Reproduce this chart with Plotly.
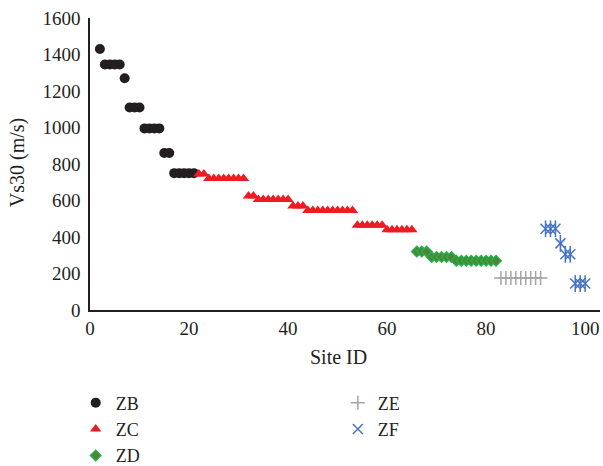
import plotly.graph_objects as go

# ---- data ----
x_zb = [2, 3, 4, 5, 6, 7, 8, 9, 10, 11, 12, 13, 14, 15, 16, 17, 18, 19, 20, 21]
y_zb = [1430, 1345, 1345, 1345, 1345, 1270, 1110, 1110, 1110, 995, 995, 995, 995,
        860, 860, 750, 750, 750, 750, 750]

x_zc = list(range(22, 66))
y_zc = ([745, 745] + [720] * 8 + [625, 625] + [605] * 7 + [570] * 3 +
        [545] * 10 + [465] * 6 + [440] * 6)

x_zd = list(range(66, 83))
y_zd = [320, 320, 320] + [290] * 5 + [270] * 9

x_ze = list(range(83, 92))
y_ze = [175] * 9

x_zf = [92, 93, 94, 95, 96, 97, 98, 99, 100]
y_zf = [445, 445, 445, 365, 305, 305, 145, 145, 145]

x_ticks = [0, 20, 40, 60, 80, 100]
y_ticks = [0, 200, 400, 600, 800, 1000, 1200, 1400, 1600]

FONT = "Liberation Serif"
TXT = "#231f20"

fig = go.Figure()
fig.add_trace(go.Scatter(x=x_zb, y=y_zb, mode="markers", name="ZB",
                         marker=dict(symbol="circle", size=10, color="#231f20"),
                         legend="legend"))
fig.add_trace(go.Scatter(x=x_zc, y=y_zc, mode="markers", name="ZC",
                         marker=dict(symbol="triangle-up", size=10, color="#ed1c24",
                                     line=dict(width=0)),
                         legend="legend"))
fig.add_trace(go.Scatter(x=x_zd, y=y_zd, mode="markers", name="ZD",
                         marker=dict(symbol="diamond", size=8, color="#548235",
                                     line=dict(width=1.5, color="#22b04b")),
                         legend="legend"))
fig.add_trace(go.Scatter(x=x_ze, y=y_ze, mode="markers", name="ZE",
                         marker=dict(symbol="cross-thin", size=10,
                                     line=dict(width=1.5, color="#a5a5a5")),
                         legend="legend2"))
fig.add_trace(go.Scatter(x=x_zf, y=y_zf, mode="markers", name="ZF",
                         marker=dict(symbol="x-thin", size=10,
                                     line=dict(width=1.5, color="#4472c4")),
                         legend="legend2"))
fig.add_trace(go.Scatter(x=x_zf, y=y_zf, mode="markers", name="ZF",
                         marker=dict(symbol="line-ns", size=12,
                                     line=dict(width=1.5, color="#4472c4")),
                         legend="legend2", showlegend=False))

fig.update_layout(
    width=603, height=466,
    margin=dict(l=90, r=3, t=18, b=156, autoexpand=False),
    paper_bgcolor="white", plot_bgcolor="white",
    font=dict(family=FONT, size=19, color=TXT),
    legend=dict(x=-0.028, y=-0.255, xanchor="left", yanchor="top", tracegroupgap=0,
                font=dict(family=FONT, size=18, color=TXT),
                bgcolor="rgba(0,0,0,0)", orientation="v"),
    legend2=dict(x=0.486, y=-0.255, xanchor="left", yanchor="top", tracegroupgap=0,
                 font=dict(family=FONT, size=18, color=TXT),
                 bgcolor="rgba(0,0,0,0)", orientation="v"),
    annotations=[
        dict(text="Site ID", xref="paper", yref="paper", x=0.487, y=-0.161,
             xanchor="center", yanchor="middle", showarrow=False,
             font=dict(family=FONT, size=20, color=TXT)),
        dict(text="Vs30 (m/s)", xref="paper", yref="paper", x=-0.143, y=0.503,
             xanchor="center", yanchor="middle", showarrow=False, textangle=-90,
             font=dict(family=FONT, size=20, color=TXT)),
    ],
)
fig.update_xaxes(range=[0, 103], tickvals=x_ticks, showgrid=False, zeroline=False,
                 showline=True, linecolor="#231f20", linewidth=1.5, ticks="",
                 ticklabelstandoff=0, automargin=False)
fig.update_yaxes(range=[0, 1600], tickvals=y_ticks, showgrid=False, zeroline=False,
                 showline=True, linecolor="#231f20", linewidth=1.5, ticks="",
                 ticklabelstandoff=4, automargin=False)

fig.write_html("out.html")
